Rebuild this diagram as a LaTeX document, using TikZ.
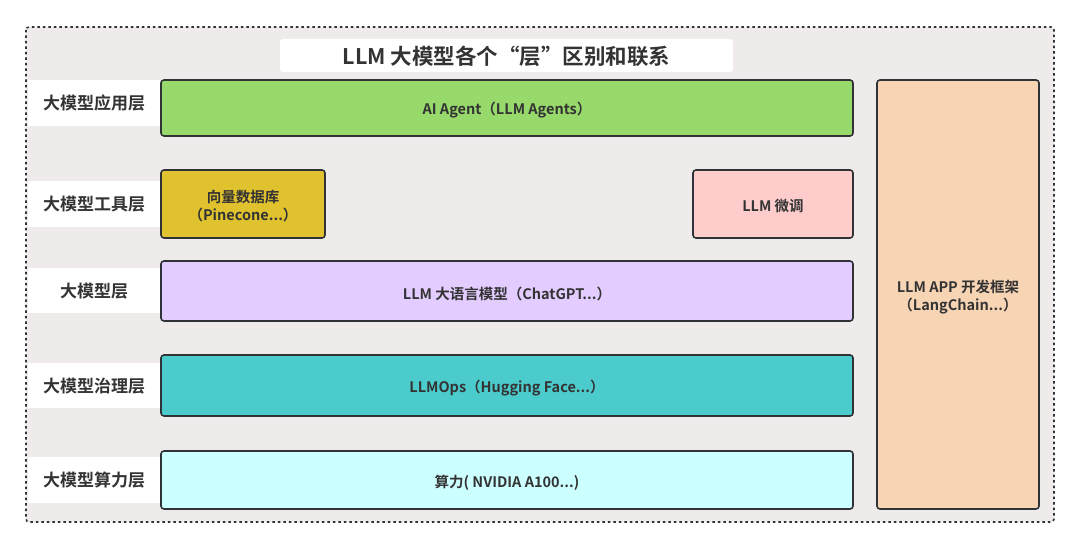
\documentclass[tikz,border=0pt]{standalone}
\usepackage{fontspec}
\setmainfont{Noto Sans CJK SC}[BoldFont={* Bold}]
\begin{document}
\begin{tikzpicture}[x=1pt,y=-1pt,
  txt/.style={text=textgray,font=\bfseries},
  layer/.style={draw=linegray,line width=1.6pt,rounded corners=3pt,text=textgray,font=\bfseries\fontsize{14.5}{18}\selectfont,align=center,inner sep=0pt},
  lbl/.style={yshift=-2.5pt},
  band/.style={fill=white,text=textgray,font=\bfseries\fontsize{17}{20}\selectfont,inner sep=0pt}]
\definecolor{textgray}{HTML}{333333}
\definecolor{linegray}{HTML}{2F3337}
\definecolor{bggray}{HTML}{EFEBEA}
\definecolor{cgreen}{HTML}{97D96B}
\definecolor{cyellow}{HTML}{E0C22F}
\definecolor{cpink}{HTML}{FFCCCC}
\definecolor{cpurple}{HTML}{E3CCFF}
\definecolor{cteal}{HTML}{4CCBCC}
\definecolor{ccyan}{HTML}{CCFFFF}
\definecolor{corange}{HTML}{F7D4B3}
\useasboundingbox (0,0) rectangle (1080,548);
\fill[white] (0,0) rectangle (1080,548);
% outer frame
\draw[fill=bggray,draw=linegray,line width=1.6pt,dash pattern=on 2.5pt off 3pt,rounded corners=3pt] (26,27) rectangle (1054,522);
% title
\fill[white,rounded corners=3pt] (280,39) rectangle (733,72);
\node[txt,font=\bfseries\fontsize{21.5}{25}\selectfont] (title) at (506.5,56) {LLM 大模型各个“层”区别和联系};
% bands
\fill[white] (28,80) rectangle (160,126);
\node[band] (l1) at (94,103) {大模型应用层};
\fill[white] (28,181) rectangle (160,227);
\node[band] (l2) at (94,204) {大模型工具层};
\fill[white] (28,268) rectangle (160,313);
\node[band] (l3) at (94,291) {大模型层};
\fill[white] (28,363) rectangle (160,408);
\node[band] (l4) at (94,386) {大模型治理层};
\fill[white] (28,457) rectangle (160,503);
\node[band] (l5) at (94,480) {大模型算力层};
% boxes
\draw[layer,fill=cgreen] (161,80) rectangle (853,136) node[midway,lbl] (agent) {AI Agent（LLM Agents）};
\draw[layer,fill=cyellow] (161,170) rectangle (325,238) node[midway,lbl] (vec) {向量数据库\\（Pinecone...）};
\draw[layer,fill=cpink] (693,170) rectangle (853,238) node[midway,lbl] (ft) {LLM 微调};
\draw[layer,fill=cpurple] (161,261) rectangle (853,321) node[midway,lbl] (llm) {LLM 大语言模型（ChatGPT...）};
\draw[layer,fill=cteal] (161,355) rectangle (853,416) node[midway,lbl] (ops) {LLMOps（Hugging Face...）};
\draw[layer,fill=ccyan] (161,451) rectangle (853,509) node[midway,lbl] (gpu) {算力( NVIDIA A100...)};
\draw[layer,fill=corange] (877,80) rectangle (1039,509) node[midway,lbl] (app) {LLM APP 开发框架\\（LangChain...）};
\end{tikzpicture}
\end{document}
